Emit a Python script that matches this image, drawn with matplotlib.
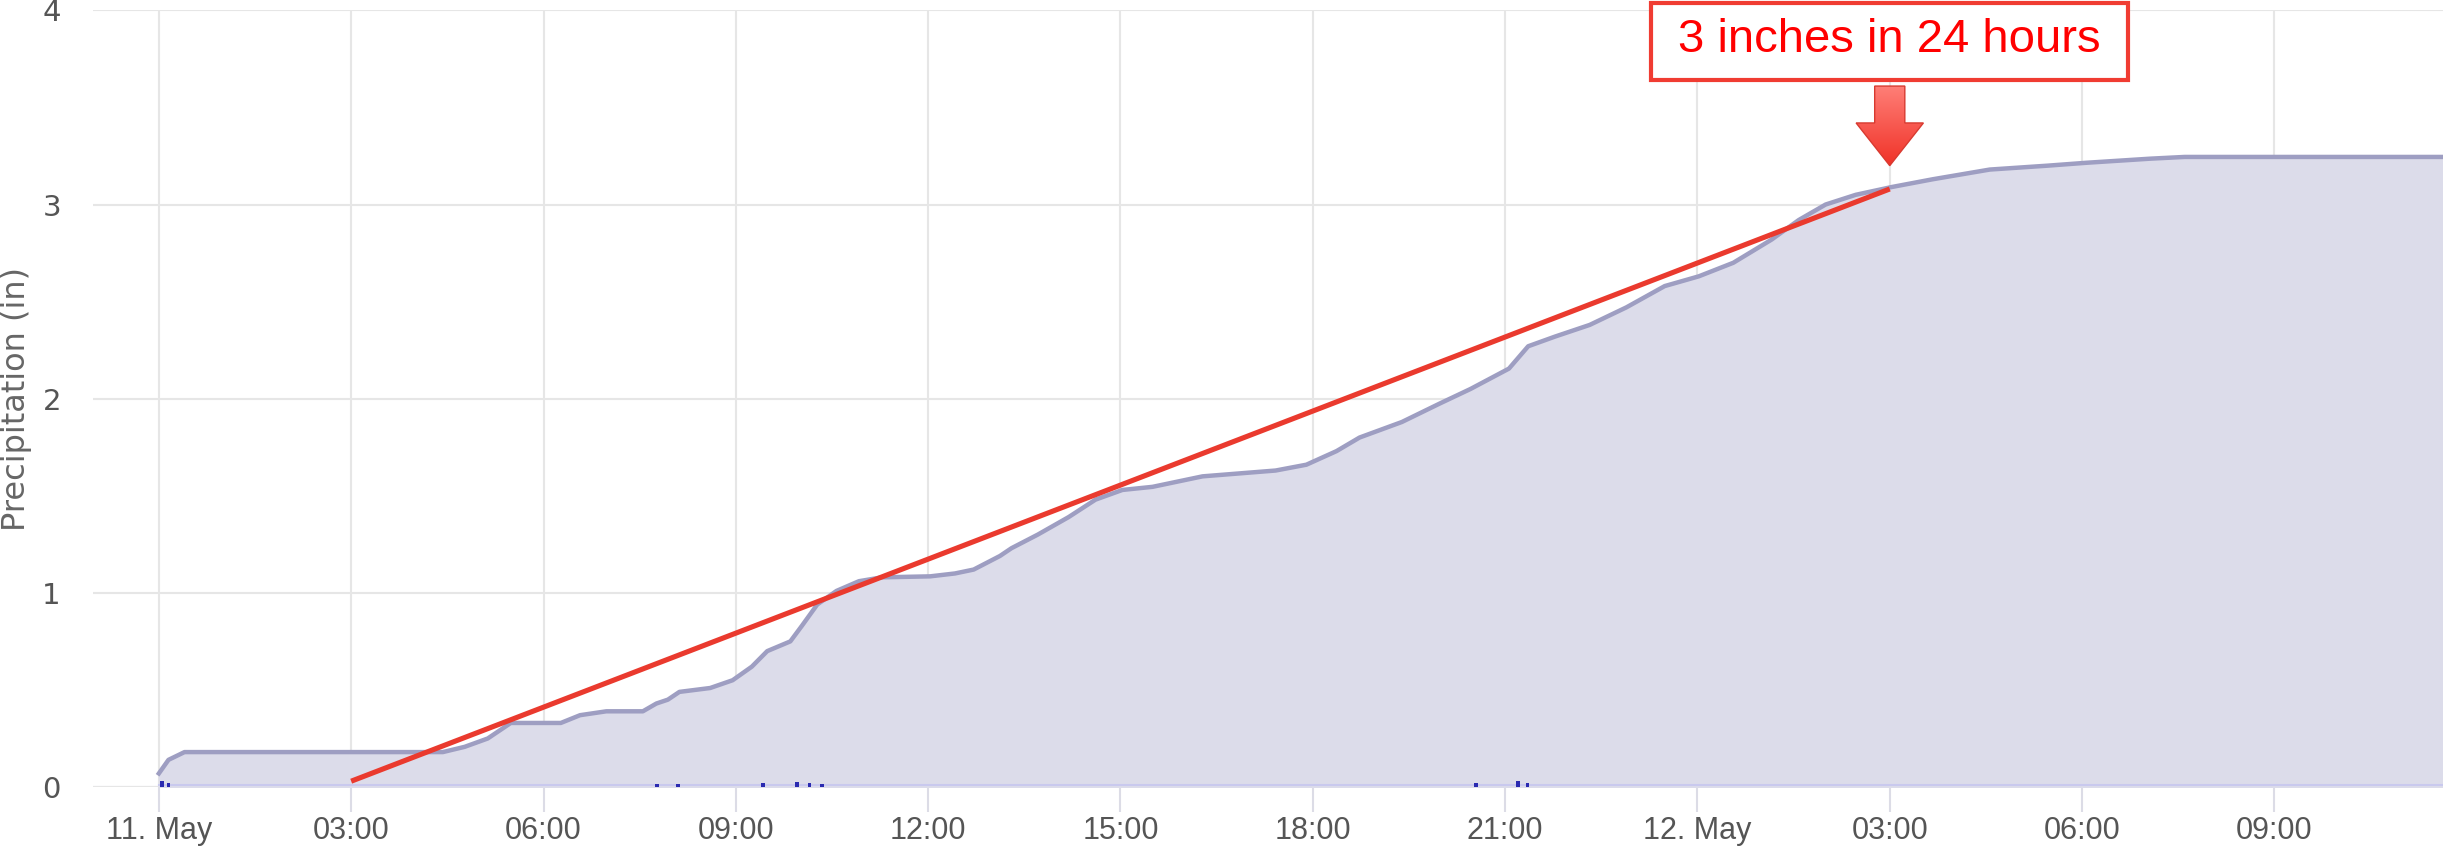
import numpy as np
import matplotlib.pyplot as plt
from matplotlib.patches import FancyArrow, Rectangle
from matplotlib.colors import LinearSegmentedColormap

# hours since 11 May 00:00 and accumulated precipitation (in)
hours = [0, 0.15, 0.4, 4.43, 4.77, 5.13, 5.49, 6.27, 6.57, 6.98, 7.55, 7.76, 7.94,
         8.12, 8.6, 8.95, 9.25, 9.49, 9.85, 10.03, 10.27, 10.57, 10.92, 11.28, 12.03,
         12.42, 12.71, 13.12, 13.3, 13.71, 14.19, 14.61, 15.03, 15.5, 16.28, 17.42,
         17.9, 18.37, 18.73, 19.39, 19.98, 20.46, 21.06, 21.36, 21.78, 22.32, 22.89,
         23.49, 24.02, 24.56, 25.16, 25.58, 26.0, 26.47, 27.03, 27.67, 28.56, 29.46,
         30.07, 31.06, 31.6, 35.7]
precip = [0.07, 0.14, 0.18, 0.18, 0.207, 0.25, 0.33, 0.33, 0.37, 0.39, 0.39, 0.43, 0.45,
          0.49, 0.51, 0.55, 0.62, 0.70, 0.75, 0.83, 0.94, 1.01, 1.06, 1.08, 1.085,
          1.10, 1.12, 1.19, 1.23, 1.30, 1.39, 1.48, 1.53, 1.546, 1.60, 1.63,
          1.66, 1.73, 1.80, 1.88, 1.975, 2.05, 2.155, 2.27, 2.32, 2.38, 2.47,
          2.58, 2.63, 2.70, 2.82, 2.92, 3.00, 3.05, 3.09, 3.13, 3.18, 3.20,
          3.215, 3.236, 3.245, 3.245]

# small rate marks along the baseline
rate_hours = [0.05, 0.15, 7.77, 8.1, 9.43, 9.95, 10.15, 10.35, 20.55, 21.2, 21.35]
rate_vals = [0.03, 0.02, 0.015, 0.015, 0.02, 0.025, 0.02, 0.015, 0.02, 0.03, 0.02]

# red trend line (start, end)
trend_hours = [3.0, 27.0]
trend_vals = [0.03, 3.08]

tick_hours = list(range(0, 36, 3))
tick_labels = ['11. May', '03:00', '06:00', '09:00', '12:00', '15:00', '18:00',
               '21:00', '12. May', '03:00', '06:00', '09:00']

fig = plt.figure(figsize=(24.43, 8.47), dpi=100)
ax = fig.add_axes([0.038, 0.0708, 0.962, 0.917])

ax.fill_between(hours, precip, 0, color='#dcdcea', zorder=1)
ax.plot(hours, precip, color='#9e9ec2', lw=3.2, zorder=2)
ax.plot([0, 35.7], [0.008, 0.008], color='#c9c9ee', lw=1.5, zorder=2)
ax.bar(rate_hours, rate_vals, width=0.06, color='#2a2ab0', zorder=3)
ax.plot(trend_hours, trend_vals, color='#ea3a2e', lw=3.7, solid_capstyle='butt', zorder=4)

# annotation: box, text, arrow with a light-to-red gradient
xt = ax.get_xaxis_transform()
ax.add_patch(Rectangle((trend_hours[1] - 3.72, 0.91), 7.44, 0.099, transform=xt,
                       fc='white', ec='#f03c32', lw=3, clip_on=False, zorder=6))
ax.text(trend_hours[1], 0.962, '3 inches in 24 hours', transform=xt,
        ha='center', va='center', fontsize=34, color='#ff0000', family='Liberation Sans',
        zorder=7)
arrow = FancyArrow(trend_hours[1], 3.61, 0, -0.41, width=0.47, head_width=1.05,
                   head_length=0.22, length_includes_head=True,
                   fc='none', ec='#d83a30', lw=1, zorder=8)
ax.add_patch(arrow)
grad = np.linspace(0, 1, 100).reshape(-1, 1)
cmap = LinearSegmentedColormap.from_list('arr', ['#ff8078', '#f03026'])
img = ax.imshow(grad, extent=[trend_hours[1] - 0.6, trend_hours[1] + 0.6, 3.19, 3.62],
                origin='upper', aspect='auto', cmap=cmap, zorder=7)
img.set_clip_path(arrow)

ax.set_xlim(-1.03, 35.63)
ax.set_ylim(0, 4)
ax.set_xticks(tick_hours)
ax.set_xticklabels(tick_labels)
ax.set_yticks([0, 1, 2, 3, 4])

for s in ax.spines.values():
    s.set_visible(False)
ax.grid(True, color='#e6e6e6', lw=1.5, zorder=0)
ax.set_axisbelow(True)
ax.axhline(0, color='#c8c8d8', lw=1.5, zorder=0)

ax.tick_params(axis='x', length=18, color='#dcdce6', width=1.5, pad=3,
               labelsize=22, labelcolor='#555555')
ax.tick_params(axis='y', length=0, pad=23, labelsize=21, labelcolor='#555555')
for lab in ax.get_xticklabels():
    lab.set_family('Liberation Sans')
for lab in ax.get_yticklabels():
    lab.set_family('DejaVu Sans')
ax.set_ylabel('Precipitation (in)', fontsize=23, color='#666666')
ax.yaxis.set_label_coords(-0.026, 0.5)

fig.savefig('out.png', dpi=100)
